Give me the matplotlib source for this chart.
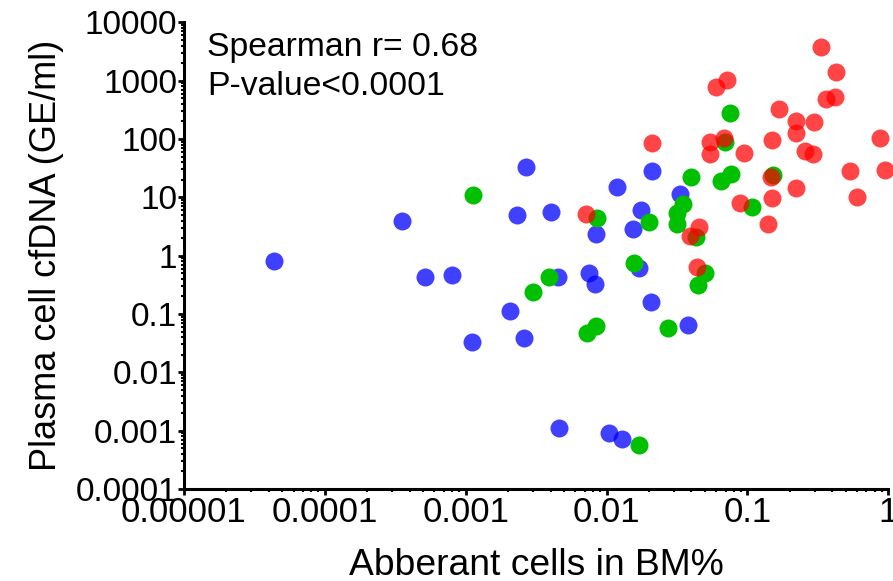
import matplotlib
matplotlib.use("Agg")
import matplotlib.pyplot as plt
from matplotlib.ticker import LogLocator, FixedLocator, NullFormatter

plt.rcParams['font.family'] = ['Liberation Sans', 'DejaVu Sans']

# Blue series
blue_x = [4.33e-5, 3.51e-4, 5.13e-4, 8.02e-4, 1.11e-3, 2.05e-3, 2.31e-3, 2.60e-3,
          2.67e-3, 4.00e-3, 4.53e-3, 4.59e-3, 7.52e-3, 8.26e-3, 8.46e-3, 0.01047,
          0.01193, 0.01278, 0.01529, 0.01703, 0.01766, 0.0208, 0.02113, 0.0332, 0.0378]
blue_y = [0.82, 3.93, 0.437, 0.461, 0.0332, 0.1115, 4.98, 0.0389,
          33.1, 5.68, 0.437, 1.13e-3, 0.511, 0.327, 2.31, 9.08e-4,
          15.2, 7.31e-4, 2.87, 0.608, 6.07, 0.160, 27.96, 11.4, 0.0657]

# Green series
green_x = [1.12e-3, 3.01e-3, 3.91e-3, 7.31e-3, 8.42e-3, 8.50e-3, 0.01688, 0.02002,
           0.01567, 0.02732, 0.03139, 0.03139, 0.0349, 0.0396, 0.0433, 0.0447,
           0.0497, 0.0644, 0.0689, 0.0747, 0.0762, 0.1069, 0.1522]
green_y = [10.9, 0.2415, 0.431, 0.0477, 0.0612, 4.48, 5.70e-4, 3.74,
           0.759, 0.0581, 5.44, 3.47, 7.63, 21.9, 2.12, 0.317,
           0.499, 19.2, 89.9, 281, 24.9, 6.92, 23.7]

# Red series
red_x = [7.16e-3, 0.02107, 0.0390, 0.0435, 0.0452, 0.0545, 0.0545, 0.0600,
         0.0714, 0.0682, 0.0883, 0.0938, 0.1389, 0.1478, 0.1495, 0.1497,
         0.168, 0.2195, 0.2195, 0.220, 0.2576, 0.2897, 0.2974, 0.3334,
         0.360, 0.4183, 0.4288, 0.535, 0.601, 0.880, 0.940]
red_y = [5.08, 85.4, 2.20, 0.628, 3.14, 87.1, 55.8, 763,
         1018, 104, 8.07, 56.9, 3.42, 22.6, 95.0, 9.86,
         331, 206, 128, 14.2, 61.8, 54.7, 196, 3817,
         479, 518, 1379, 28.1, 10.0, 102.8, 29.4]

x_ticks = [1e-5, 1e-4, 1e-3, 1e-2, 1e-1, 1]
x_ticklabels = ["0.00001", "0.0001", "0.001", "0.01", "0.1", "1"]
y_ticks = [1e-4, 1e-3, 1e-2, 1e-1, 1, 10, 100, 1000, 10000]
y_ticklabels = ["0.0001", "0.001", "0.01", "0.1", "1", "10", "100", "1000", "10000"]

fig = plt.figure(figsize=(8.93, 5.81), dpi=100)
ax = fig.add_axes([184/893, 1-489/581, (888.3-184)/893, (489-22.3)/581])

ms = 168
ax.scatter(blue_x, blue_y, s=ms, color='#0000ff', alpha=0.75, linewidths=0, clip_on=False, zorder=3)
ax.scatter(green_x, green_y, s=ms, color='#00c000', alpha=1.0, linewidths=0, clip_on=False, zorder=4)
ax.scatter(red_x, red_y, s=ms, color='#ff0000', alpha=0.73, linewidths=0, clip_on=False, zorder=5)

ax.set_xscale('log')
ax.set_yscale('log')
ax.set_xlim(1e-5, 1)
ax.set_ylim(1e-4, 1e4)

ax.xaxis.set_major_locator(FixedLocator(x_ticks))
ax.set_xticklabels(x_ticklabels)
ax.yaxis.set_major_locator(FixedLocator(y_ticks))
ax.set_yticklabels(y_ticklabels)
ax.xaxis.set_minor_locator(LogLocator(base=10, subs=range(2, 10), numticks=20))
ax.yaxis.set_minor_locator(LogLocator(base=10, subs=range(2, 10), numticks=20))
ax.xaxis.set_minor_formatter(NullFormatter())
ax.yaxis.set_minor_formatter(NullFormatter())

for side in ['top', 'right']:
    ax.spines[side].set_visible(False)
for side in ['left', 'bottom']:
    ax.spines[side].set_linewidth(2.2)

ax.tick_params(which='major', direction='out', length=4, width=2, labelsize=24, pad=1, colors='black')
ax.tick_params(axis='x', which='major', labelsize=25)
ax.tick_params(which='minor', direction='out', length=2.5, width=1.5)

ax.set_xlabel("Abberant cells in BM%", fontsize=26.8, labelpad=14)
ax.set_ylabel("Plasma cell cfDNA (GE/ml)", fontsize=26, labelpad=8)

ax.text(207/893, 1-56/581, "Spearman r= 0.68", transform=fig.transFigure,
        fontsize=24.3, ha='left', va='baseline')
ax.text(207/893, 1-95/581, "P-value<0.0001", transform=fig.transFigure,
        fontsize=24.3, ha='left', va='baseline')

fig.savefig("out.png", dpi=100)
